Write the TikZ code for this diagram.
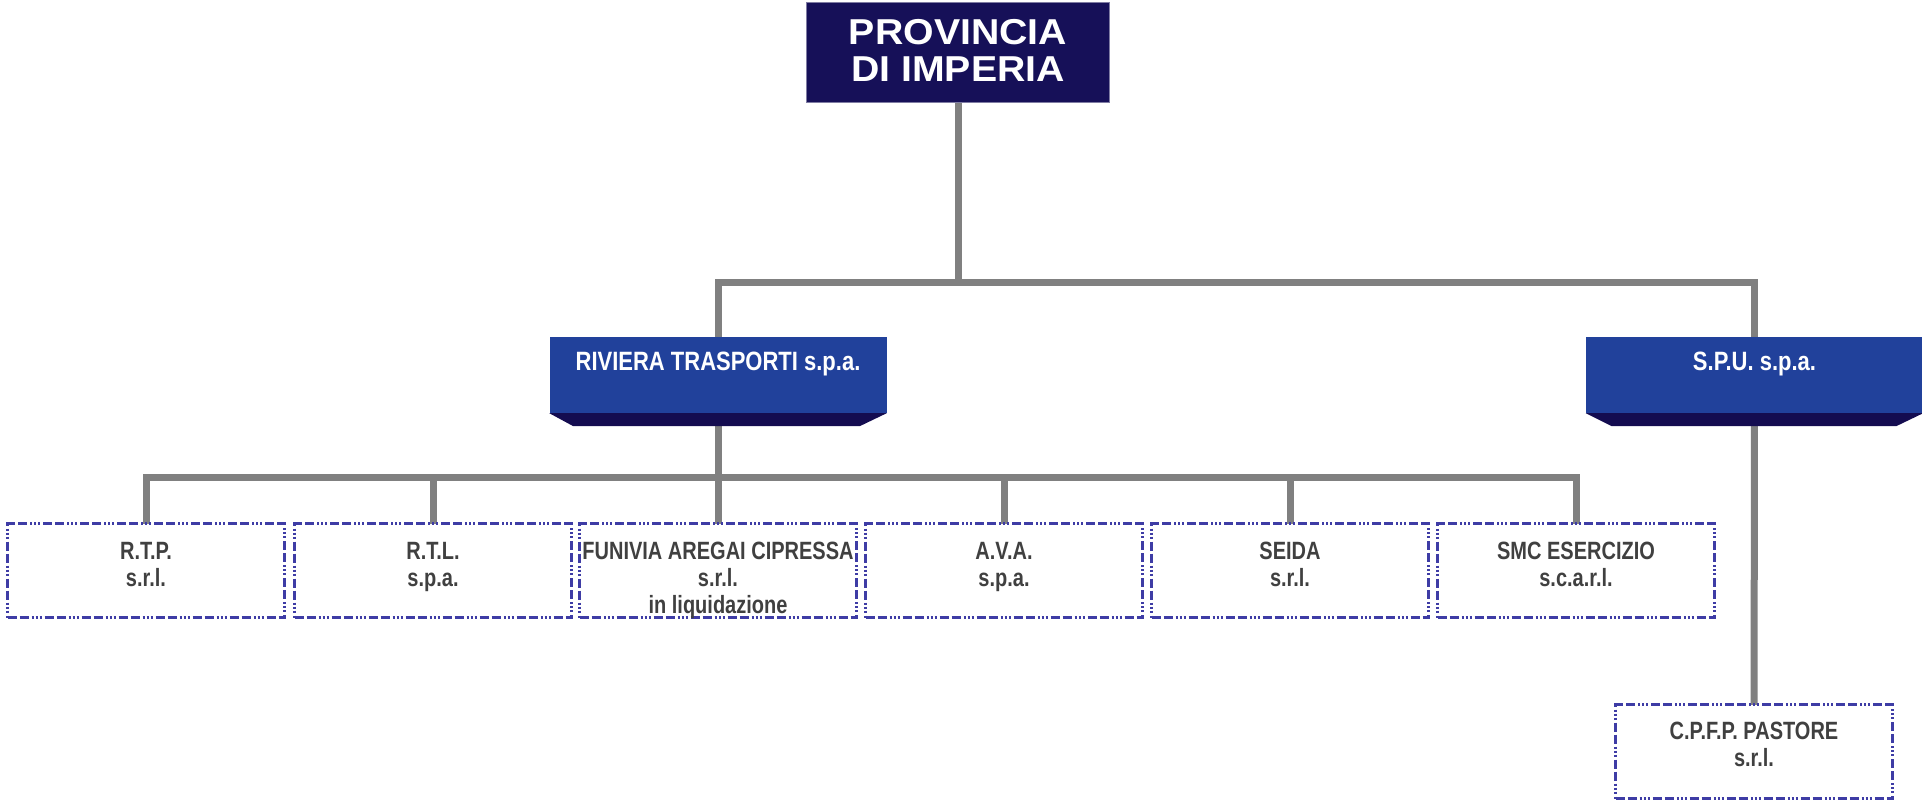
\documentclass[tikz,border=0pt]{standalone}
\usepackage{fontspec}
\usepackage{xcolor}
\setmainfont{Liberation Sans}
\newfontfamily\TopFont{Liberation Sans}[FakeStretch=1.09]
\newfontfamily\FirmFont{Liberation Sans}[FakeStretch=0.83]
\newfontfamily\SubFont{Liberation Sans}[FakeStretch=0.80]
\definecolor{Col1}{RGB}{22,16,88}
\definecolor{Col2}{RGB}{33,65,155}
\definecolor{Col3}{RGB}{20,12,80}
\definecolor{Col4}{RGB}{62,60,165}
\definecolor{Col5}{RGB}{128,128,128}
\usetikzlibrary{backgrounds}
\tikzstyle{Top}=[rectangle,fill=Col1,draw=Col1!55,line width=1pt,
minimum width=303,minimum height=100,inner sep=0pt]
\tikzstyle{Firm}=[rectangle,fill=Col2,minimum width=337,minimum height=76,
inner sep=0pt]
\tikzstyle{Shade}=[fill=Col3]
\tikzstyle{Sub}=[rectangle,draw=Col4,fill=white,line width=3pt,
dash pattern=on 9pt off 3pt on 9pt off 3pt on 2pt off 2pt on 2pt off 2pt
on 2pt off 3pt,minimum width=277,minimum height=94,inner sep=0pt]
\tikzstyle{Edge}=[draw=Col5,line width=7pt]
\tikzstyle{TopText}=[text=white,anchor=north,align=center,inner sep=0pt,
font=\TopFont\bfseries\fontsize{36}{37}\selectfont]
\tikzstyle{FirmText}=[text=white,anchor=north,inner sep=0pt,
font=\FirmFont\bfseries\fontsize{26.5}{30}\selectfont]
\tikzstyle{SubText}=[text=black!75,anchor=north,align=center,inner sep=0pt,
font=\SubFont\bfseries\fontsize{25}{27}\selectfont]

\begin{document}
\begin{tikzpicture}[x=1pt,y=-1pt]
        \useasboundingbox(0,0)rectangle(1922,806);
        \node[Top](prov)at(958,52.5){};
        \node[TopText](provt)at([yshift=-17pt]prov.north){PROVINCIA\\DI IMPERIA};
        \node[Firm](riv)at(718,375){};
        \node[Firm](spu)at(1754.5,375){};
        \fill[Shade](riv.south west)--(riv.south east)
            --([xshift=-27pt,yshift=-13pt]riv.south east)
            --([xshift=24pt,yshift=-13pt]riv.south west)--cycle;
        \fill[Shade](spu.south west)--(spu.south east)
            --([xshift=-27pt,yshift=-13pt]spu.south east)
            --([xshift=26pt,yshift=-13pt]spu.south west)--cycle;
        \node[FirmText](rivt)at([yshift=-15pt]riv.north){RIVIERA TRASPORTI s.p.a.};
        \node[FirmText](sput)at([yshift=-15pt]spu.north){S.P.U. s.p.a.};
        \node[Sub](rtp)at(146,570.5){};
        \node[Sub](rtl)at(433,570.5){};
        \node[Sub](fun)at(718,570.5){};
        \node[Sub](ava)at(1004,570.5){};
        \node[Sub](sei)at(1290,570.5){};
        \node[Sub](smc)at(1576,570.5){};
        \node[Sub](cpfp)at(1754,751.5){};
        \node[SubText](rtpt)at([yshift=-20pt]rtp.north){R.T.P.\\s.r.l.};
        \node[SubText](rtlt)at([yshift=-20pt]rtl.north){R.T.L.\\s.p.a.};
        \node[SubText](funt)at([yshift=-20pt]fun.north)
            {FUNIVIA AREGAI CIPRESSA\\s.r.l.\\in liquidazione};
        \node[SubText](avat)at([yshift=-20pt]ava.north){A.V.A.\\s.p.a.};
        \node[SubText](seit)at([yshift=-20pt]sei.north){SEIDA\\s.r.l.};
        \node[SubText](smct)at([yshift=-20pt]smc.north){SMC ESERCIZIO\\s.c.a.r.l.};
        \node[SubText](cpfpt)at([yshift=-19pt]cpfp.north){C.P.F.P. PASTORE\\s.r.l.};
        \coordinate(bus1)at(958,282);
        \coordinate(bus2)at(718,477);
        \begin{scope}[on background layer]
        \draw[Edge](prov.center)--(bus1);
        \draw[Edge](riv.center)|-(bus1)-|(spu.center);
        \draw[Edge](riv.center)--(bus2);
        \foreach \n in {rtp,rtl,fun,ava,sei,smc}
            \draw[Edge](\n.center)|-(bus2);
        \draw[Edge](spu.center)--(cpfp.center);
        \end{scope}
    \end{tikzpicture}
\end{document}
